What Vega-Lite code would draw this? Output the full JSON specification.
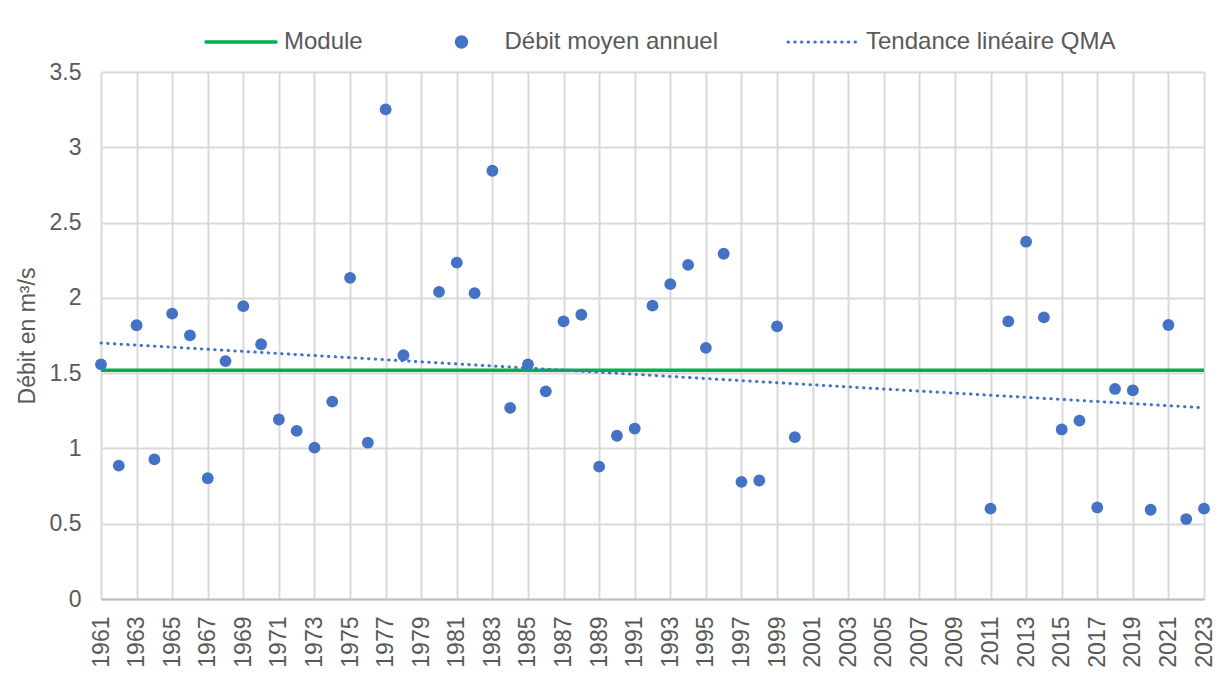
{
  "$schema": "https://vega.github.io/schema/vega-lite/v6.json",
  "width": 1103,
  "height": 527,
  "autosize": {"type": "none"},
  "padding": {"left": 101, "top": 72, "right": 15, "bottom": 89},
  "background": "white",
  "config": {"view": {"stroke": null}, "font": "Liberation Sans"},
  "data": {"values": [
    {"year": 1961, "serie": "Module", "value": 1.52},
    {"year": 2023, "serie": "Module", "value": 1.52},
    {"year": 1961, "serie": "Tendance linéaire QMA", "value": 1.70},
    {"year": 2023, "serie": "Tendance linéaire QMA", "value": 1.27},
    {"year": 1961, "serie": "Débit moyen annuel", "value": 1.558},
    {"year": 1962, "serie": "Débit moyen annuel", "value": 0.886},
    {"year": 1963, "serie": "Débit moyen annuel", "value": 1.818},
    {"year": 1964, "serie": "Débit moyen annuel", "value": 0.927},
    {"year": 1965, "serie": "Débit moyen annuel", "value": 1.895},
    {"year": 1966, "serie": "Débit moyen annuel", "value": 1.751},
    {"year": 1967, "serie": "Débit moyen annuel", "value": 0.802},
    {"year": 1968, "serie": "Débit moyen annuel", "value": 1.580},
    {"year": 1969, "serie": "Débit moyen annuel", "value": 1.945},
    {"year": 1970, "serie": "Débit moyen annuel", "value": 1.692},
    {"year": 1971, "serie": "Débit moyen annuel", "value": 1.192},
    {"year": 1972, "serie": "Débit moyen annuel", "value": 1.117},
    {"year": 1973, "serie": "Débit moyen annuel", "value": 1.005},
    {"year": 1974, "serie": "Débit moyen annuel", "value": 1.311},
    {"year": 1975, "serie": "Débit moyen annuel", "value": 2.133},
    {"year": 1976, "serie": "Débit moyen annuel", "value": 1.038},
    {"year": 1977, "serie": "Débit moyen annuel", "value": 3.252},
    {"year": 1978, "serie": "Débit moyen annuel", "value": 1.619},
    {"year": 1980, "serie": "Débit moyen annuel", "value": 2.040},
    {"year": 1981, "serie": "Débit moyen annuel", "value": 2.234},
    {"year": 1982, "serie": "Débit moyen annuel", "value": 2.031},
    {"year": 1983, "serie": "Débit moyen annuel", "value": 2.844},
    {"year": 1984, "serie": "Débit moyen annuel", "value": 1.269},
    {"year": 1985, "serie": "Débit moyen annuel", "value": 1.558},
    {"year": 1986, "serie": "Débit moyen annuel", "value": 1.379},
    {"year": 1987, "serie": "Débit moyen annuel", "value": 1.844},
    {"year": 1988, "serie": "Débit moyen annuel", "value": 1.888},
    {"year": 1989, "serie": "Débit moyen annuel", "value": 0.879},
    {"year": 1990, "serie": "Débit moyen annuel", "value": 1.084},
    {"year": 1991, "serie": "Débit moyen annuel", "value": 1.132},
    {"year": 1992, "serie": "Débit moyen annuel", "value": 1.948},
    {"year": 1993, "serie": "Débit moyen annuel", "value": 2.091},
    {"year": 1994, "serie": "Débit moyen annuel", "value": 2.219},
    {"year": 1995, "serie": "Débit moyen annuel", "value": 1.668},
    {"year": 1996, "serie": "Débit moyen annuel", "value": 2.293},
    {"year": 1997, "serie": "Débit moyen annuel", "value": 0.778},
    {"year": 1998, "serie": "Débit moyen annuel", "value": 0.787},
    {"year": 1999, "serie": "Débit moyen annuel", "value": 1.811},
    {"year": 2000, "serie": "Débit moyen annuel", "value": 1.075},
    {"year": 2011, "serie": "Débit moyen annuel", "value": 0.600},
    {"year": 2012, "serie": "Débit moyen annuel", "value": 1.844},
    {"year": 2013, "serie": "Débit moyen annuel", "value": 2.373},
    {"year": 2014, "serie": "Débit moyen annuel", "value": 1.870},
    {"year": 2015, "serie": "Débit moyen annuel", "value": 1.126},
    {"year": 2016, "serie": "Débit moyen annuel", "value": 1.185},
    {"year": 2017, "serie": "Débit moyen annuel", "value": 0.608},
    {"year": 2018, "serie": "Débit moyen annuel", "value": 1.395},
    {"year": 2019, "serie": "Débit moyen annuel", "value": 1.386},
    {"year": 2020, "serie": "Débit moyen annuel", "value": 0.593},
    {"year": 2021, "serie": "Débit moyen annuel", "value": 1.820},
    {"year": 2022, "serie": "Débit moyen annuel", "value": 0.531},
    {"year": 2023, "serie": "Débit moyen annuel", "value": 0.600}
  ]},
  "encoding": {
    "x": {
      "field": "year", "type": "quantitative",
      "scale": {"domain": [1961, 2023], "nice": false, "zero": false},
      "axis": {
        "values": [1961,1963,1965,1967,1969,1971,1973,1975,1977,1979,1981,1983,1985,1987,1989,1991,1993,1995,1997,1999,2001,2003,2005,2007,2009,2011,2013,2015,2017,2019,2021,2023],
        "format": "d", "labelAngle": -90, "labelFontSize": 23, "labelColor": "#595959",
        "labelFont": "Liberation Sans", "labelPadding": 17, "labelOverlap": false,
        "ticks": false, "domainColor": "#BFBFBF", "domainWidth": 2,
        "gridColor": "#D9D9D9", "gridWidth": 2, "title": null
      }
    },
    "y": {
      "field": "value", "type": "quantitative",
      "scale": {"domain": [0, 3.5], "nice": false},
      "axis": {
        "values": [0, 0.5, 1, 1.5, 2, 2.5, 3, 3.5],
        "labelExpr": "'' + datum.value",
        "labelFontSize": 23, "labelColor": "#595959", "labelFont": "Liberation Sans",
        "labelPadding": 20, "ticks": false, "domain": false,
        "gridColor": "#D9D9D9", "gridWidth": 2,
        "title": "Débit en m³/s", "titleFontSize": 23, "titleColor": "#595959",
        "titleFont": "Liberation Sans", "titleFontWeight": "normal", "titlePadding": 10
      }
    },
    "color": {
      "field": "serie", "type": "nominal",
      "scale": {"domain": ["Module", "Débit moyen annuel", "Tendance linéaire QMA"], "range": ["#00B050", "#4472C4", "#4472C4"]},
      "legend": {
        "orient": "none", "legendX": 105, "legendY": -65, "direction": "horizontal",
        "title": null, "padding": 0,
        "labelFontSize": 24, "labelColor": "#595959", "labelFont": "Liberation Sans", "labelLimit": 0,
        "symbolSize": 4900, "symbolType": "stroke", "symbolStrokeWidth": 3, "labelOffset": 8, "columnPadding": 63.5,
        "encode": {
          "symbols": {
            "update": {
              "shape": {"signal": "(datum.value === 'Débit moyen annuel' ? 'M -0.19,0 A 0.19,0.19 0 1,0 0.19,0 A 0.19,0.19 0 1,0 -0.19,0 Z' : 'stroke')"},
              "strokeDash": {"signal": "(datum.value === 'Tendance linéaire QMA' ? [0.5, 6.2] : [1, 0])"},
              "strokeWidth": {"signal": "(datum.value === 'Module' ? 3.5 : (datum.value === 'Tendance linéaire QMA' ? 3 : 0))"},
              "fill": {"signal": "(datum.value === 'Débit moyen annuel' ? '#4472C4' : 'transparent')"},
              "stroke": {"signal": "(datum.value === 'Module' ? '#00B050' : '#4472C4')"},
              "strokeCap": {"value": "round"},
              "opacity": {"value": 1}
            }
          }
        }
      }
    }
  },
  "layer": [
    {
      "transform": [{"filter": "datum.serie === 'Module'"}],
      "mark": {"type": "line", "strokeWidth": 3.5}
    },
    {
      "transform": [{"filter": "datum.serie === 'Tendance linéaire QMA'"}],
      "mark": {"type": "line", "strokeWidth": 3, "strokeDash": [0.5, 6.2], "strokeCap": "round"}
    },
    {
      "transform": [{"filter": "datum.serie === 'Débit moyen annuel'"}],
      "mark": {"type": "point", "filled": true, "size": 140, "opacity": 1}
    }
  ]
}
